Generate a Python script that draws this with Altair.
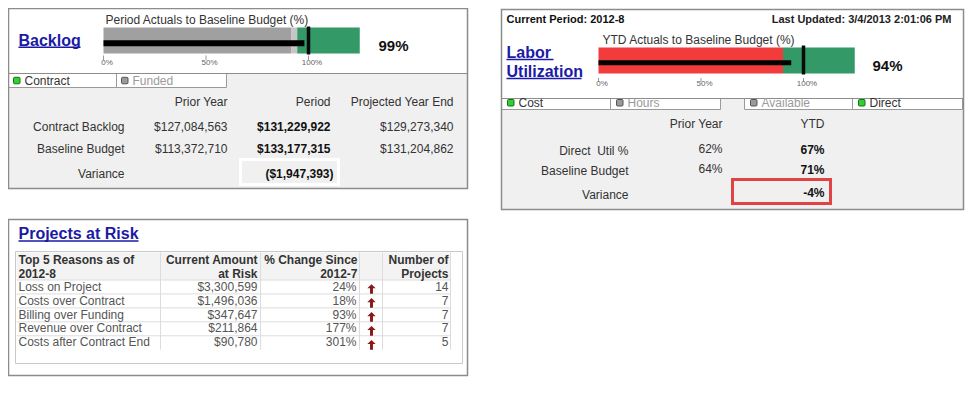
import altair as alt
import pandas as pd

# ---------------------------------------------------------------- data
backlog_title = "Backlog"
backlog_bullet_title = "Period Actuals to Baseline Budget (%)"
backlog_band_ends = [91.5, 94.5, 125]          # funded, funded (upper), contract
backlog_actual = 98
backlog_target = 100
backlog_value_label = "99%"
bullet_ticks = [0, 50, 100]

backlog_legend = ["Contract", "Funded"]
backlog_legend_on = [True, False]

backlog_columns = ["Prior Year", "Period", "Projected Year End"]
backlog_rows = ["Contract Backlog", "Baseline Budget"]
backlog_prior = [127084563, 113372710]
backlog_period = [131229922, 133177315]
backlog_projected = [129273340, 131204862]
backlog_variance_label = "Variance"
backlog_variance = -1947393

current_period = "Current Period: 2012-8"
last_updated = "Last Updated: 3/4/2013 2:01:06 PM"
labor_title = ["Labor\u00a0", "Utilization"]
labor_bullet_title = "YTD Actuals to Baseline Budget (%)"
labor_band_ends = [90, 125]
labor_actual = 94
labor_target = 100
labor_value_label = "94%"
labor_legend_left = ["Cost", "Hours"]
labor_legend_left_on = [True, False]
labor_legend_right = ["Available", "Direct"]
labor_legend_right_on = [False, True]

labor_columns = ["Prior Year", "YTD"]
labor_rows = ["Direct\u00a0 Util %", "Baseline Budget"]
labor_prior = [62, 64]
labor_ytd = [67, 71]
labor_variance_label = "Variance"
labor_variance = -4

projects_title = "Projects at Risk"
projects_headers = [["Top 5 Reasons as of", "2012-8"],
                    ["Current Amount", "at Risk"],
                    ["% Change Since", "2012-7"],
                    ["Number of", "Projects"]]
reasons = ["Loss on Project", "Costs over Contract", "Billing over Funding",
           "Revenue over Contract", "Costs after Contract End"]
amount_at_risk = [3300599, 1496036, 347647, 211864, 90780]
pct_change = [24, 18, 93, 177, 301]
num_projects = [14, 7, 7, 7, 5]

# ---------------------------------------------------------------- layout
FONT = "Liberation Sans, Arial, Helvetica, sans-serif"
W, H = 961, 397
OX, OY = 2.5, 5.5
PX_PER_PCT = 2.05
BLUE = "#1a1aa6"
DARK = "#333333"
GREEN = "#339966"
GRID = "#dcdcdc"
PANEL_BG = "#f0f0f0"
FRAME = "#8c8c8c"


def sx():
    return alt.Scale(domain=[OX, OX + W], range=[0, W], nice=False, zero=False)


def sy():
    return alt.Scale(domain=[OY, OY + H], range=[0, H], nice=False, zero=False)


def bscale(x0):
    return alt.Scale(domain=[0, 125], range=[x0 - OX, x0 + 125 * PX_PER_PCT - OX],
                     nice=False, zero=False)


def money(v):
    return f"(${-v:,.0f})" if v < 0 else f"${v:,.0f}"


texts, rects, lines, squares, frames = [], [], [], [], []


def T(t, x, y, size=12, color=DARK, weight="normal", align="left"):
    texts.append(dict(t=t, x=x, y=y, s=size, c=color, w=weight, a=align))


def R(x, x2, y, y2, fill, stroke="transparent", sw=0):
    rects.append(dict(x=x, x2=x2, y=y, y2=y2, f=fill, k=stroke, sw=sw))


def L(x, x2, y, y2, color=GRID, w=1):
    lines.append(dict(x=x, x2=x2, y=y, y2=y2, c=color, w=w))


def SQ(x, y, on):
    squares.append(dict(x=x, x2=x + 6.5, y=y, y2=y + 6.5,
                        f="#2fd12f" if on else "#9a9a9a",
                        k="#1d6b1d" if on else "#555555", sw=1))


# ---- backlog panel
R(3, 462, 6, 186, PANEL_BG)
R(3, 462, 6, 71, "white")
L(3, 462, 71, 71, FRAME, 1)
for (x0, x1), name, on in zip([(3, 111), (111, 221)], backlog_legend, backlog_legend_on):
    R(x0, x1, 71, 85, "white", "#9a9a9a", 1)
    SQ(x0 + 5, 74.8, on)
    T(name, x0 + 16, 78.4, 12, DARK if on else "#9a9a9a")
R(235, 333, 157, 182, PANEL_BG, "white", 3)

T(backlog_title, 13, 38.4, 16, BLUE, "bold")
L(13, 75, 44.7, 44.7, BLUE, 1.5)
T(backlog_bullet_title, 100, 17.4, 12, DARK)
T(backlog_value_label, 373, 43.2, 15, "#111111", "bold")

col_right = [222, 325, 448]
for cx, name in zip(col_right, backlog_columns):
    T(name, cx, 99.7, 12, DARK, align="right")
row_y = [124.7, 146.4]
for i, name in enumerate(backlog_rows):
    T(name, 119, row_y[i], 12, DARK, align="right")
    T(money(backlog_prior[i]), col_right[0], row_y[i], 12, DARK, align="right")
    T(money(backlog_period[i]), col_right[1], row_y[i], 12, "#111111", "bold", "right")
    T(money(backlog_projected[i]), col_right[2], row_y[i], 12, DARK, align="right")
T(backlog_variance_label, 119, 171.4, 12, DARK, align="right")
T(money(backlog_variance), 328, 171.4, 12, "#111111", "bold", "right")
frames.append(dict(x=3, x2=462, y=6, y2=186, f="transparent", k=FRAME, sw=1.5))

# ---- labor panel
R(496, 958, 7, 207, PANEL_BG)
R(496, 958, 7, 96, "white")
L(496, 958, 96, 96, FRAME, 1)
cells = [(496, 605), (605, 715), (739, 847), (847, 957)]
leg_names = labor_legend_left + labor_legend_right
leg_on = labor_legend_left_on + labor_legend_right_on
for (x0, x1), name, on in zip(cells, leg_names, leg_on):
    R(x0, x1, 96, 107, "white", "#9a9a9a", 1)
    SQ(x0 + 6, 97, on)
    T(name, x0 + 17, 100.2, 12, DARK if on else "#9a9a9a")

T(current_period, 501, 17.7, 11, "#111111", "bold")
T(last_updated, 946, 17.5, 11, "#222222", "bold", "right")
T(labor_title[0], 501, 50.2, 16, BLUE, "bold")
T(labor_title[1], 501, 69.2, 16, BLUE, "bold")
L(501, 548, 57, 57, BLUE, 1.5)
L(501, 576, 76, 76, BLUE, 1.5)
T(labor_bullet_title, 597, 37.4, 12, DARK)
T(labor_value_label, 867, 63.8, 15, "#111111", "bold")

lcol_right = [717, 819]
for cx, name in zip(lcol_right, labor_columns):
    T(name, cx, 121.8, 12, DARK, align="right")
lab_y = [148.0, 168.0]
val_y = [146.4, 166.8]
for i, name in enumerate(labor_rows):
    T(name, 623, lab_y[i], 12, DARK, align="right")
    T(f"{labor_prior[i]}%", lcol_right[0], val_y[i], 12, DARK, align="right")
    T(f"{labor_ytd[i]}%", lcol_right[1], lab_y[i] - 0.8, 12, "#111111", "bold", "right")
T(labor_variance_label, 623, 192.2, 12, DARK, align="right")
T(f"{labor_variance}%", 819, 190.6, 12, "#111111", "bold", "right")
frames.append(dict(x=727, x2=825, y=177, y2=201, f="transparent", k="#e04343", sw=3))
frames.append(dict(x=496, x2=958, y=7, y2=207, f="transparent", k=FRAME, sw=1.5))

# ---- projects panel
R(3, 462, 217, 373, "white")
R(10, 457, 249, 361, "white", "#c9c9c9", 1)
R(11, 445, 250, 277.5, "#f3f3f3")
T(projects_title, 13, 231.9, 16, BLUE, "bold")
L(13, 133, 238.5, 238.5, BLUE, 1.5)

head_x = [(13, "left"), (252, "right"), (352, "right"), (443, "right")]
for (hx, al), (l1, l2) in zip(head_x, projects_headers):
    T(l1, hx, 257.1, 12, DARK, "bold", al)
    T(l2, hx, 271.4, 12, DARK, "bold", al)

row_top = 277.5
row_h = 13.95
for i in range(len(reasons)):
    L(11, 445, row_top + i * row_h, row_top + i * row_h)
for vx in [155, 255, 354, 377, 445]:
    L(vx, vx, 250, row_top + len(reasons) * row_h)

arrows = []
for i, r in enumerate(reasons):
    yy = row_top + i * row_h + 6.6
    T(r, 13, yy, 12, "#555555")
    T(money(amount_at_risk[i]), 252, yy, 12, "#555555", align="right")
    T(f"{pct_change[i]}%", 351, yy, 12, "#555555", align="right")
    T(str(num_projects[i]), 443, yy, 12, "#555555", align="right")
    arrows.append(dict(x=366, y=yy + 2.4, d=pct_change[i]))
frames.append(dict(x=3, x2=462, y=217, y2=373, f="transparent", k=FRAME, sw=1.5))


# ---------------------------------------------------------------- layers
def rect_layer(rows, **mk):
    return alt.Chart(pd.DataFrame(rows)).mark_rect(**mk).encode(
        x=alt.X("x:Q", scale=sx(), axis=None), x2="x2:Q",
        y=alt.Y("y:Q", scale=sy(), axis=None), y2="y2:Q",
        fill=alt.Fill("f:N", scale=None),
        stroke=alt.Stroke("k:N", scale=None),
        strokeWidth=alt.StrokeWidth("sw:Q", scale=None),
    )


def line_layer(rows):
    return alt.Chart(pd.DataFrame(rows)).mark_rule().encode(
        x=alt.X("x:Q", scale=sx(), axis=None), x2="x2:Q",
        y=alt.Y("y:Q", scale=sy(), axis=None), y2="y2:Q",
        color=alt.Color("c:N", scale=None),
        strokeWidth=alt.StrokeWidth("w:Q", scale=None),
    )


def text_layers(rows):
    df = pd.DataFrame(rows)
    out = []
    for (al, wt), g in df.groupby(["a", "w"]):
        out.append(alt.Chart(g).mark_text(align=al, baseline="middle", fontWeight=wt,
                                          font=FONT).encode(
            x=alt.X("x:Q", scale=sx(), axis=None),
            y=alt.Y("y:Q", scale=sy(), axis=None),
            text="t:N",
            size=alt.Size("s:Q", scale=None),
            color=alt.Color("c:N", scale=None),
        ))
    return out


def bullet_layers(x0, bands, band_colors, band_y, bar_value, bar_y, target, target_y,
                  tick_y, label_y):
    starts = [0] + bands[:-1]
    brows = [dict(s=s, e=e, y=band_y[0], y2=band_y[1], c=c)
             for s, e, c in zip(starts, bands, band_colors)]
    brows.append(dict(s=0, e=bar_value, y=bar_y[0], y2=bar_y[1], c="#000000"))
    band = alt.Chart(pd.DataFrame(brows)).mark_rect().encode(
        x=alt.X("s:Q", scale=bscale(x0), axis=None), x2="e:Q",
        y=alt.Y("y:Q", scale=sy(), axis=None), y2="y2:Q",
        color=alt.Color("c:N", scale=None),
    )
    rrows = [dict(v=target, y=target_y[0], y2=target_y[1], c="#0a0a0a", w=3.5)]
    rrows += [dict(v=t, y=tick_y[0], y2=tick_y[1], c="#9a9a9a", w=1) for t in bullet_ticks]
    rules = alt.Chart(pd.DataFrame(rrows)).mark_rule().encode(
        x=alt.X("v:Q", scale=bscale(x0), axis=None),
        y=alt.Y("y:Q", scale=sy(), axis=None), y2="y2:Q",
        color=alt.Color("c:N", scale=None),
        strokeWidth=alt.StrokeWidth("w:Q", scale=None),
    )
    lrows = [dict(v=t, y=label_y, t=f"{t}%") for t in bullet_ticks]
    labels = alt.Chart(pd.DataFrame(lrows)).mark_text(
        align="center", baseline="middle", dx=3.5, fontSize=8, font=FONT, color="#666666"
    ).encode(
        x=alt.X("v:Q", scale=bscale(x0), axis=None),
        y=alt.Y("y:Q", scale=sy(), axis=None),
        text="t:N",
    )
    return [band, rules, labels]


ARROW = "M0,-1L0.85,-0.15L0.3,-0.15L0.3,1L-0.3,1L-0.3,-0.15L-0.85,-0.15Z"
arrow_layer = alt.Chart(pd.DataFrame(arrows)).mark_point(
    shape=ARROW, filled=True, size=95, color="#8b1717", opacity=1
).encode(
    x=alt.X("x:Q", scale=sx(), axis=None),
    y=alt.Y("y:Q", scale=sy(), axis=None),
)

layers = [rect_layer(rects), line_layer(lines)]
layers += bullet_layers(98, backlog_band_ends, ["#a0a0a0", "#c6c6c6", GREEN], (25, 51),
                        backlog_actual, (37.8, 43.8), backlog_target, (24, 52), (53, 57.5), 60.9)
layers += bullet_layers(593, labor_band_ends, ["#f23b3b", GREEN], (45, 71),
                        labor_actual, (57.8, 62.8), labor_target, (43, 72), (75.5, 79.5), 81.6)
layers.append(rect_layer(squares, cornerRadius=1))
layers.append(arrow_layer)
layers += text_layers(texts)
layers.append(rect_layer(frames))

chart = alt.layer(*layers).properties(
    width=W, height=H, padding=0, autosize=alt.AutoSizeParams(type="none"),
    background="white",
).resolve_scale(x="independent").configure_view(strokeWidth=0)

chart.save("out.html", embed_options={"renderer": "svg", "actions": False})
